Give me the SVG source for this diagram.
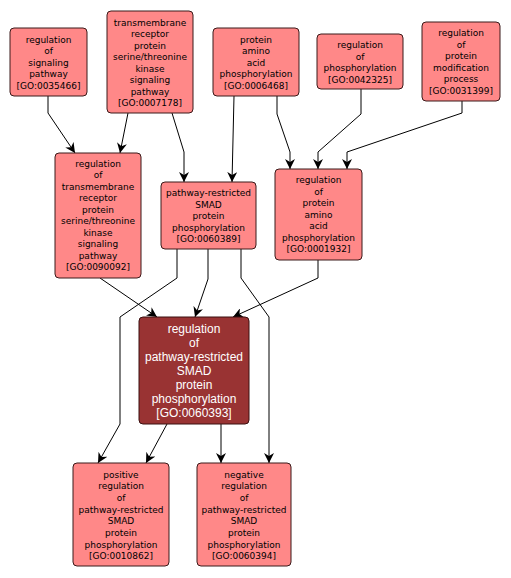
<svg xmlns="http://www.w3.org/2000/svg" width="511" height="578" viewBox="0 0 511 578">
<defs>
<style>
.n rect{fill:#ff8888;stroke:#3a1a1a;stroke-width:1}
.n text{font-family:"DejaVu Sans",sans-serif;font-size:9px;fill:#000;text-anchor:middle}
.m rect{fill:#993333;stroke:#3a1010;stroke-width:1}
.m text{font-family:"Liberation Sans",Arial,sans-serif;font-size:12px;fill:#fff;text-anchor:middle}
.e path{fill:none;stroke:#000;stroke-width:1;marker-end:url(#a)}
</style>
<marker id="a" markerUnits="userSpaceOnUse" markerWidth="10" markerHeight="10" viewBox="0 0 10 10" refX="10" refY="5" orient="auto">
<path d="M0,0 L10,5 L0,10 L3,5 z" fill="#000"/>
</marker>
</defs>
<rect width="511" height="578" fill="#fff"/>
<g id="edges" class="e">
<path d="M48,96 L48,113 L75,153"/>
<path d="M128,113 L120,153"/>
<path d="M172,113 L184,152 L184,182"/>
<path d="M234,96 L232,182"/>
<path d="M277,96 L277,114 L290,152 L290,169"/>
<path d="M361,89 L361,114 L318,152 L318,169"/>
<path d="M462,101 L462,113 L347,152 L347,169"/>
<path d="M100,278 L157,317"/>
<path d="M208,249 L208,279 L195,317"/>
<path d="M177,249 L177,278 L120,317 L120,424 L98,463"/>
<path d="M241,249 L241,278 L269,317 L269,463"/>
<path d="M318,260 L318,278 L233,317"/>
<path d="M167,424 L146,463"/>
<path d="M221,424 L221,463"/>
</g>
<g id="n1" class="n"><rect x="10" y="28" width="77" height="68" rx="4"/>
<text x="48.5" y="42.5">regulation</text><text x="48.5" y="54">of</text><text x="48.5" y="65.5">signaling</text><text x="48.5" y="77">pathway</text><text x="48.5" y="88.5">[GO:0035466]</text></g>
<g id="n2" class="n"><rect x="107" y="11" width="86" height="102" rx="4"/>
<text x="150" y="25.5">transmembrane</text><text x="150" y="37">receptor</text><text x="150" y="48.5">protein</text><text x="150" y="60">serine/threonine</text><text x="150" y="71.5">kinase</text><text x="150" y="83">signaling</text><text x="150" y="94.5">pathway</text><text x="150" y="106">[GO:0007178]</text></g>
<g id="n3" class="n"><rect x="213" y="28" width="86" height="68" rx="4"/>
<text x="256" y="42.5">protein</text><text x="256" y="54">amino</text><text x="256" y="65.5">acid</text><text x="256" y="77">phosphorylation</text><text x="256" y="88.5">[GO:0006468]</text></g>
<g id="n4" class="n"><rect x="317" y="34" width="86" height="55" rx="4"/>
<text x="360" y="48">regulation</text><text x="360" y="59.5">of</text><text x="360" y="71">phosphorylation</text><text x="360" y="82.5">[GO:0042325]</text></g>
<g id="n5" class="n"><rect x="422" y="22" width="78" height="79" rx="4"/>
<text x="461" y="36">regulation</text><text x="461" y="47.5">of</text><text x="461" y="59">protein</text><text x="461" y="70.5">modification</text><text x="461" y="82">process</text><text x="461" y="93.5">[GO:0031399]</text></g>
<g id="n6" class="n"><rect x="55" y="153" width="86" height="125" rx="4"/>
<text x="98" y="166.5">regulation</text><text x="98" y="178">of</text><text x="98" y="189.5">transmembrane</text><text x="98" y="201">receptor</text><text x="98" y="212.5">protein</text><text x="98" y="224">serine/threonine</text><text x="98" y="235.5">kinase</text><text x="98" y="247">signaling</text><text x="98" y="258.5">pathway</text><text x="98" y="270">[GO:0090092]</text></g>
<g id="n7" class="n"><rect x="161" y="182" width="95" height="67" rx="4"/>
<text x="208.5" y="196">pathway-restricted</text><text x="208.5" y="207.5">SMAD</text><text x="208.5" y="219">protein</text><text x="208.5" y="230.5">phosphorylation</text><text x="208.5" y="242">[GO:0060389]</text></g>
<g id="n8" class="n"><rect x="275" y="169" width="87" height="91" rx="4"/>
<text x="318.5" y="183">regulation</text><text x="318.5" y="194.5">of</text><text x="318.5" y="206">protein</text><text x="318.5" y="217.5">amino</text><text x="318.5" y="229">acid</text><text x="318.5" y="240.5">phosphorylation</text><text x="318.5" y="252">[GO:0001932]</text></g>
<g id="n9" class="m"><rect x="139" y="317" width="110" height="107" rx="4"/>
<text x="194" y="333">regulation</text><text x="194" y="347">of</text><text x="194" y="361">pathway-restricted</text><text x="194" y="375">SMAD</text><text x="194" y="389">protein</text><text x="194" y="403">phosphorylation</text><text x="194" y="417">[GO:0060393]</text></g>
<g id="n10" class="n"><rect x="73" y="463" width="96" height="103" rx="4"/>
<text x="121" y="477.5">positive</text><text x="121" y="489.2">regulation</text><text x="121" y="500.9">of</text><text x="121" y="512.6">pathway-restricted</text><text x="121" y="524.3">SMAD</text><text x="121" y="536">protein</text><text x="121" y="547.7">phosphorylation</text><text x="121" y="559.4">[GO:0010862]</text></g>
<g id="n11" class="n"><rect x="197" y="463" width="94" height="103" rx="4"/>
<text x="244" y="477.5">negative</text><text x="244" y="489.2">regulation</text><text x="244" y="500.9">of</text><text x="244" y="512.6">pathway-restricted</text><text x="244" y="524.3">SMAD</text><text x="244" y="536">protein</text><text x="244" y="547.7">phosphorylation</text><text x="244" y="559.4">[GO:0060394]</text></g>
</svg>
